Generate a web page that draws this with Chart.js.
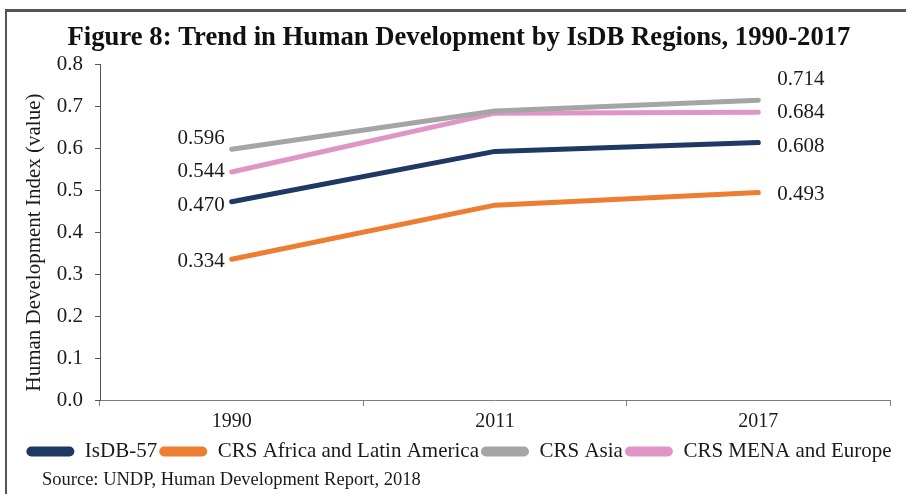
<!DOCTYPE html>
<html>
<head>
<meta charset="utf-8">
<script src="https://cdn.jsdelivr.net/npm/chart.js@4.4.1/dist/chart.umd.min.js"></script>
<style>
  html, body { margin: 0; padding: 0; background: #fff; }
  #wrap { position: relative; width: 906px; height: 494px; overflow: hidden; }
  #frame { position: absolute; left: 5px; top: 9px; width: 910px; height: 500px;
           border-top: 3px solid #555; border-left: 2px solid #555; }
  #chartBox { position: absolute; left: 0; top: 0; width: 906px; height: 494px; }
  #source { position: absolute; left: 42px; top: 469px; font: 18.5px "Liberation Serif", serif; color: #1a1a1a; }
</style>
</head>
<body>
<div id="wrap">
  <div id="frame"></div>
  <div id="chartBox"><canvas id="hdiChart"></canvas></div>
  <div id="source">Source: UNDP, Human Development Report, 2018</div>
</div>
<script>
// --- Data ---
const years = ['1990', '2011', '2017'];
const seriesNames = ['IsDB-57', 'CRS Africa and Latin America', 'CRS Asia', 'CRS MENA and Europe'];
const isdb57 = [0.472, 0.592, 0.613];
const crsAfricaLatAm = [0.335, 0.464, 0.494];
const crsAsia = [0.597, 0.688, 0.714];
const crsMenaEurope = [0.543, 0.683, 0.685];
const startLabels = ['0.470', '0.334', '0.596', '0.544'];
const endLabels = ['0.608', '0.493', '0.714', '0.684'];
const yTicks = [0, 0.1, 0.2, 0.3, 0.4, 0.5, 0.6, 0.7, 0.8];

const colors = ['#1f3864', '#ed7d31', '#a5a5a5', '#df96c6'];
// label nudges (px), same order as series
const startDy = [4, 2, -11, 0];
const endDy = [4, 2, -21, 0];

const SERIF = '"Liberation Serif", "Times New Roman", serif';

const valueLabels = {
  id: 'valueLabels',
  afterDatasetsDraw(chart) {
    const ctx = chart.ctx;
    ctx.save();
    ctx.font = '21px ' + SERIF;
    ctx.fillStyle = '#1a1a1a';
    ctx.textBaseline = 'middle';
    chart.data.datasets.forEach((ds, i) => {
      const pts = chart.getDatasetMeta(i).data;
      const first = pts[0], last = pts[pts.length - 1];
      ctx.textAlign = 'right';
      ctx.fillText(startLabels[i], first.x - 7, first.y + startDy[i]);
      ctx.textAlign = 'left';
      ctx.fillText(endLabels[i], last.x + 19, last.y + endDy[i]);
    });
    ctx.restore();
  }
};

const allSeries = [isdb57, crsAfricaLatAm, crsAsia, crsMenaEurope];

new Chart(document.getElementById('hdiChart'), {
  type: 'line',
  data: {
    labels: years,
    datasets: allSeries.map((vals, i) => ({
      label: seriesNames[i],
      data: vals,
      borderColor: colors[i],
      backgroundColor: colors[i],
      borderWidth: 5,
      borderCapStyle: 'round',
      borderJoinStyle: 'round',
      pointRadius: 0,
      tension: 0
    }))
  },
  options: {
    responsive: true,
    maintainAspectRatio: false,
    animation: false,
    layout: { padding: { left: 12, right: 0, top: 0, bottom: 22 } },
    plugins: {
      title: {
        display: true,
        text: 'Figure 8: Trend in Human Development by IsDB Regions, 1990-2017',
        color: '#111',
        font: { family: SERIF, size: 26.7, weight: 'bold' },
        padding: { top: 22, bottom: 10 }
      },
      legend: {
        position: 'bottom',
        labels: {
          color: '#1a1a1a',
          font: { family: SERIF, size: 21 },
          boxWidth: 48,
          boxHeight: 10,
          useBorderRadius: true,
          borderRadius: 5,
          padding: 2,
          generateLabels(chart) {
            return Chart.defaults.plugins.legend.labels.generateLabels(chart)
              .map(l => ({ ...l, lineWidth: 0 }));
          }
        }
      },
      tooltip: { enabled: false }
    },
    scales: {
      x: {
        offset: true,
        grid: { offset: true, drawOnChartArea: false, drawTicks: true, tickLength: 6, color: '#7f7f7f' },
        border: { color: '#7f7f7f', width: 1 },
        ticks: { color: '#1a1a1a', font: { family: SERIF, size: 20 }, padding: 4 },
        afterFit(scale) { scale.height = 39; }
      },
      y: {
        min: 0,
        max: 0.8,
        afterBuildTicks(scale) { scale.ticks = yTicks.map(v => ({ value: v })); },
        grid: { drawOnChartArea: false, drawTicks: true, tickLength: 5, color: '#555' },
        border: { color: '#555', width: 1 },
        ticks: {
          color: '#1a1a1a',
          font: { family: SERIF, size: 21 },
          padding: 12,
          callback: v => Number(v).toFixed(1)
        },
        title: {
          display: true,
          text: 'Human Development Index (value)    ',
          color: '#1a1a1a',
          font: { family: SERIF, size: 21 },
          padding: { top: 10, bottom: 0 }
        },
        afterFit(scale) { scale.width = 88; }
      },
      // empty right-hand spacer so the plot ends where the original does
      spacer: {
        type: 'linear',
        position: 'right',
        display: true,
        grid: { display: false },
        border: { display: false },
        ticks: { display: false },
        afterFit(scale) { scale.width = 16; }
      }
    }
  },
  plugins: [valueLabels]
});
</script>
</body>
</html>
